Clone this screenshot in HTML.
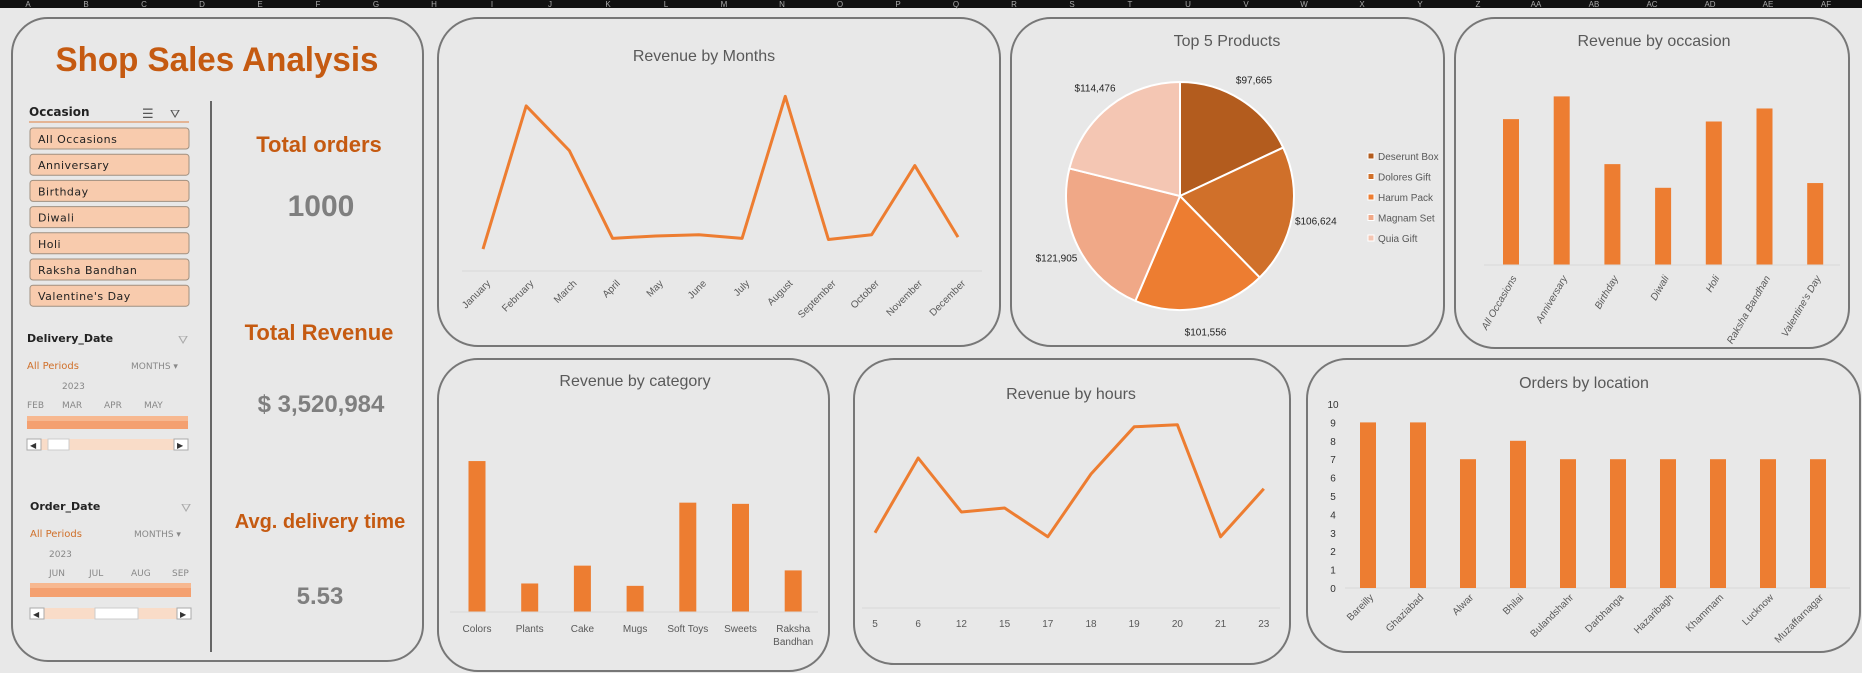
<!DOCTYPE html>
<html><head><meta charset="utf-8"><style>
html,body{margin:0;padding:0;background:#e8e8e8;}
svg{display:block;font-family:"Liberation Sans Narrow","Liberation Sans",sans-serif;}
</style></head><body>
<svg id="s" width="1862" height="673" viewBox="0 0 1862 673" xmlns="http://www.w3.org/2000/svg">
<rect x="0" y="0" width="1862" height="673" fill="#e8e8e8"/>
<rect x="0" y="0" width="1862" height="8" fill="#111"/>
<g id="cols" font-size="8" fill="#aaa"></g>

<rect x="12" y="18" width="411" height="643" rx="36" fill="#e8e8e8" stroke="#777" stroke-width="2"/>
<text x="217" y="71" text-anchor="middle" font-family="Liberation Sans,sans-serif" font-weight="bold" font-size="34" fill="#c55a11" textLength="323" lengthAdjust="spacingAndGlyphs">Shop Sales Analysis</text>
<line x1="211" y1="101" x2="211" y2="652" stroke="#666" stroke-width="2"/>

<g font-family="DejaVu Sans,sans-serif">
<text x="29" y="116" font-size="12" font-weight="bold" fill="#222">Occasion</text>
<text x="142" y="118" font-size="13" fill="#555">☰</text>
<text x="170" y="118" font-size="12" fill="#555">⛛</text>
<line x1="29" y1="122" x2="189" y2="122" stroke="#e08040" stroke-width="1"/>
<g id="occ"></g>
</g>

<g font-family="DejaVu Sans,sans-serif">
<text x="27" y="342" font-size="11" font-weight="bold" fill="#222">Delivery_Date</text>
<text x="178" y="344" font-size="12" fill="#aaa">⛛</text>
<text x="27" y="369" font-size="10" fill="#d0702a">All Periods</text>
<text x="131" y="369" font-size="9" fill="#888">MONTHS ▾</text>
<text x="62" y="389" font-size="9" fill="#888">2023</text>
<g font-size="9" fill="#888"><text x="27" y="408">FEB</text><text x="62" y="408">MAR</text><text x="104" y="408">APR</text><text x="144" y="408">MAY</text></g>
<rect x="27" y="416" width="161" height="13" fill="#f4a070"/>
<rect x="27" y="416" width="161" height="5" fill="#f7b890"/>
<rect x="27" y="439" width="161" height="11" fill="#f9dcc8"/>
<rect x="27" y="439" width="14" height="11" fill="#fff" stroke="#aaa"/><text x="30" y="448" font-size="8" fill="#333">◀</text>
<rect x="174" y="439" width="14" height="11" fill="#fff" stroke="#aaa"/><text x="177" y="448" font-size="8" fill="#333">▶</text>
<rect x="48" y="439" width="21" height="11" fill="#fff" stroke="#ccc"/>
</g>

<g font-family="DejaVu Sans,sans-serif">
<text x="30" y="510" font-size="11" font-weight="bold" fill="#222">Order_Date</text>
<text x="181" y="512" font-size="12" fill="#aaa">⛛</text>
<text x="30" y="537" font-size="10" fill="#d0702a">All Periods</text>
<text x="134" y="537" font-size="9" fill="#888">MONTHS ▾</text>
<text x="49" y="557" font-size="9" fill="#888">2023</text>
<g font-size="9" fill="#888"><text x="49" y="576">JUN</text><text x="89" y="576">JUL</text><text x="131" y="576">AUG</text><text x="172" y="576">SEP</text></g>
<rect x="30" y="583" width="161" height="14" fill="#f4a070"/>
<rect x="30" y="583" width="161" height="5" fill="#f7b890"/>
<rect x="30" y="608" width="161" height="11" fill="#f9dcc8"/>
<rect x="30" y="608" width="14" height="11" fill="#fff" stroke="#aaa"/><text x="33" y="617" font-size="8" fill="#333">◀</text>
<rect x="177" y="608" width="14" height="11" fill="#fff" stroke="#aaa"/><text x="180" y="617" font-size="8" fill="#333">▶</text>
<rect x="95" y="608" width="43" height="11" fill="#fff" stroke="#ccc"/>
</g>

<g font-family="Liberation Sans,sans-serif" font-weight="bold" text-anchor="middle">
<text x="319" y="152" font-size="22" fill="#c55a11">Total orders</text>
<text x="321" y="216" font-size="30" fill="#7f7f7f">1000</text>
<text x="319" y="340" font-size="22" fill="#c55a11">Total Revenue</text>
<text x="321" y="412" font-size="24" fill="#7f7f7f">$ 3,520,984</text>
<text x="320" y="528" font-size="20" fill="#c55a11">Avg. delivery time</text>
<text x="320" y="604" font-size="24" fill="#7f7f7f">5.53</text>
</g>

<rect x="438" y="18" width="562" height="328" rx="40" fill="#e8e8e8" stroke="#777" stroke-width="2"/>
<rect x="1011" y="18" width="433" height="328" rx="40" fill="#e8e8e8" stroke="#777" stroke-width="2"/>
<rect x="1455" y="18" width="394" height="330" rx="40" fill="#e8e8e8" stroke="#777" stroke-width="2"/>
<rect x="438" y="359" width="391" height="312" rx="40" fill="#e8e8e8" stroke="#777" stroke-width="2"/>
<rect x="854" y="359" width="436" height="305" rx="40" fill="#e8e8e8" stroke="#777" stroke-width="2"/>
<rect x="1307" y="359" width="553" height="293" rx="40" fill="#e8e8e8" stroke="#777" stroke-width="2"/>

<g font-size="16" fill="#595959" text-anchor="middle">
<text x="704" y="61">Revenue by Months</text>
<text x="1227" y="46">Top 5 Products</text>
<text x="1654" y="46">Revenue by occasion</text>
<text x="635" y="386">Revenue by category</text>
<text x="1071" y="399">Revenue by hours</text>
<text x="1584" y="388">Orders by location</text>
</g>
<g id="charts"></g>
</svg>
<script>
const occasionSlicerItems = ["All Occasions","Anniversary","Birthday","Diwali","Holi","Raksha Bandhan","Valentine's Day"];
const monthLabels = ["January","February","March","April","May","June","July","August","September","October","November","December"];
const monthRevenue = [180,420,345,198,202,204,198,436,196,204,320,200];
const productNames = ["Deserunt Box","Dolores Gift","Harum Pack","Magnam Set","Quia Gift"];
const productRevenue = [97665,106624,101556,121905,114476];
const productLabels = ["$97,665","$106,624","$101,556","$121,905","$114,476"];
const occasionLabels = ["All Occasions","Anniversary","Birthday","Diwali","Holi","Raksha Bandhan","Valentine's Day"];
const occasionRevenue = [616,712,426,326,606,661,346];
const categoryLabels = ["Colors","Plants","Cake","Mugs","Soft Toys","Sweets","Raksha Bandhan"];
const categoryRevenue = [635,120,195,110,460,455,175];
const hourLabels = ["5","6","12","15","17","18","19","20","21","23"];
const hourRevenue = [188,375,240,250,178,335,453,458,178,298];
const locationLabels = ["Bareilly","Ghaziabad","Alwar","Bhilai","Bulandshahr","Darbhanga","Hazaribagh","Khammam","Lucknow","Muzaffarnagar"];
const locationOrders = [9,9,7,8,7,7,7,7,7,7];
const locationTicks = [0,1,2,3,4,5,6,7,8,9,10];
const sheetColumns = ["A","B","C","D","E","F","G","H","I","J","K","L","M","N","O","P","Q","R","S","T","U","V","W","X","Y","Z","AA","AB","AC","AD","AE","AF"];

const NS="http://www.w3.org/2000/svg";
const charts=document.getElementById('charts');
function mk(tag,attrs,parent,text){const e=document.createElementNS(NS,tag);for(const k in attrs)e.setAttribute(k,attrs[k]);if(text!==undefined)e.textContent=text;(parent||charts).appendChild(e);return e;}
const OR="#ed7d31", GR="#595959";

const cols=document.getElementById('cols');
sheetColumns.forEach((c,i)=>{const t=mk('text',{x:28+i*58,y:7,'text-anchor':'middle'},cols,c);

});

const occ=document.getElementById('occ');
occasionSlicerItems.forEach((n,i)=>{const y=128+i*26.2;
const r=mk('rect',{x:30,y:y,width:159,height:21,rx:3,fill:'#f8cbad',stroke:'#a09080','stroke-width':1},occ);


const t=mk('text',{x:38,y:y+15,'font-size':11,fill:'#222','letter-spacing':'0.5'},occ,n);

});

(function(){const x0=483,x1=958,ymin=160,ymax=450,py0=261,py1=88;
const xs=i=>x0+i*(x1-x0)/(monthLabels.length-1);const ys=v=>py0-(v-ymin)*(py0-py1)/(ymax-ymin);
const ax=mk('line',{x1:462,y1:271,x2:982,y2:271,stroke:'#d9d9d9'});
const p=mk('polyline',{points:monthRevenue.map((v,i)=>xs(i)+','+ys(v)).join(' '),fill:'none',stroke:OR,'stroke-width':3,'stroke-linejoin':'round'});

monthLabels.forEach((m,i)=>{const t=mk('text',{x:xs(i)+8,y:284,'font-size':10,fill:GR,'text-anchor':'end',transform:`rotate(-45 ${xs(i)+8} 284)`},charts,m);
});})();

(function(){const cx=1180,cy=196,r=114,cols=["#b35c1e","#d0702a","#ed7d31","#f0a887","#f4c6b3"];
const tot=productRevenue.reduce((a,b)=>a+b,0);let a=-Math.PI/2;
productRevenue.forEach((v,i)=>{const a2=a+v/tot*2*Math.PI;
const x1=cx+r*Math.cos(a),y1=cy+r*Math.sin(a),x2=cx+r*Math.cos(a2),y2=cy+r*Math.sin(a2);
const s=mk('path',{d:`M${cx},${cy}L${x1},${y1}A${r},${r} 0 ${a2-a>Math.PI?1:0} 1 ${x2},${y2}Z`,fill:cols[i],stroke:'#fff','stroke-width':2});

const m=(a+a2)/2,lr=r+24;
const t=mk('text',{x:cx+lr*Math.cos(m),y:cy+lr*Math.sin(m)+4,'font-size':10,fill:'#222','text-anchor':'middle'},charts,productLabels[i]);

const ly=157+i*20.5;
const lk=mk('rect',{x:1368,y:ly-4,width:6,height:6,fill:cols[i],stroke:'#fff','stroke-width':1});

const lt=mk('text',{x:1378,y:ly+3,'font-size':10,fill:GR},charts,productNames[i]);

a=a2;});})();

function bars(labels,vals,x0,step,base,pxPer,w,name){vals.forEach((v,i)=>{const h=v*pxPer;const b=mk('rect',{x:x0+i*step-w/2,y:base-h,width:w,height:h,fill:OR});
});}

bars(occasionLabels,occasionRevenue,1511,50.7,265,0.2368,16,'occasion-bar');
(function(){const a=mk('line',{x1:1484,y1:265,x2:1840,y2:265,stroke:'#d9d9d9'});
occasionLabels.forEach((l,i)=>{const x=1511+i*50.7+6;const t=mk('text',{x:x,y:278,'font-size':10,fill:GR,'text-anchor':'end','font-style':'italic',transform:`rotate(-60 ${x} 278)`},charts,l);
});})();

bars(categoryLabels,categoryRevenue,477,52.7,612,0.2377,17,'category-bar');
(function(){const a=mk('line',{x1:450,y1:612,x2:818,y2:612,stroke:'#d9d9d9'});
categoryLabels.forEach((l,i)=>{const x=477+i*52.7;const parts=l==="Raksha Bandhan"?["Raksha","Bandhan"]:[l];
parts.forEach((p,j)=>{const t=mk('text',{x:x,y:632+j*13,'font-size':10,fill:GR,'text-anchor':'middle'},charts,p);
});});})();

(function(){const x0=875,step=43.2,base=608,px=0.4;
const a=mk('line',{x1:862,y1:608,x2:1280,y2:608,stroke:'#d9d9d9'});
const p=mk('polyline',{points:hourRevenue.map((v,i)=>(x0+i*step)+','+(base-v*px)).join(' '),fill:'none',stroke:OR,'stroke-width':3,'stroke-linejoin':'round'});

hourLabels.forEach((l,i)=>{const t=mk('text',{x:x0+i*step,y:627,'font-size':10,fill:GR,'text-anchor':'middle'},charts,l);
});})();

(function(){const base=588,top=404,px=(base-top)/10;
locationTicks.forEach(v=>{const t=mk('text',{x:1333,y:base-v*px+4,'font-size':10,fill:'#333','text-anchor':'middle'},charts,String(v));
});
const a=mk('line',{x1:1345,y1:base,x2:1850,y2:base,stroke:'#d9d9d9'});
bars(locationLabels,locationOrders,1368,50,base,px,16,'location-bar');
locationLabels.forEach((l,i)=>{const x=1368+i*50+6;const t=mk('text',{x:x,y:598,'font-size':10,fill:GR,'text-anchor':'end',transform:`rotate(-45 ${x} 598)`},charts,l);
});})();
</script>
</body></html>
